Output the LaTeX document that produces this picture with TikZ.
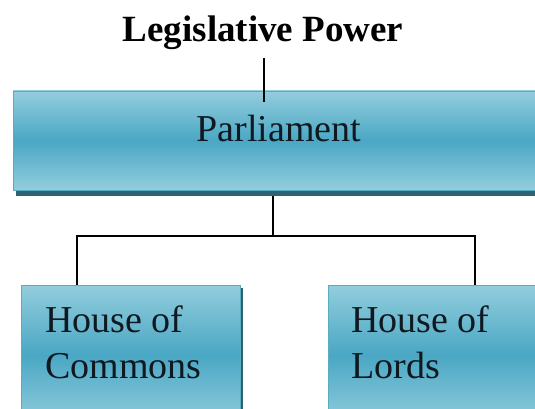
\documentclass[tikz,border=0pt]{standalone}
\usepackage{fontspec}
\setmainfont{Liberation Serif}
\begin{document}
\begin{tikzpicture}[x=1pt,y=-1pt,
  boxfill/.style={draw=boxedge, line width=0.8pt, shading=axis, top color=boxlight, bottom color=boxlight, middle color=boxmid, inner sep=0pt, outer sep=0pt},
  shadowfill/.style={fill=boxshadow, draw=none},
  conn/.style={line width=1.6pt, black},
  boxtext/.style={font=\fontsize{38}{46}\selectfont, text=textdark, inner sep=0pt, align=left}
]
\definecolor{boxlight}{HTML}{93CDDD}
\definecolor{boxmid}{HTML}{4AA7C4}
\definecolor{boxedge}{HTML}{5AACC2}
\definecolor{boxshadow}{HTML}{2C6474}
\definecolor{textdark}{HTML}{101820}
\useasboundingbox (0,0) rectangle (535,409);
\clip (0,0) rectangle (535,409);
% title
\node[font=\bfseries\fontsize{37}{44}\selectfont, inner sep=0pt, anchor=base] (title) at (263,42) {Legislative Power};
\coordinate (ttop) at (264,58);
% shadows
\fill[shadowfill] (16,189) rectangle (545,196);
\fill[shadowfill] (238,288) rectangle (243,420);
% boxes
\node[boxfill, minimum width=532pt, minimum height=99pt, anchor=north west] (parl) at (13,91) {};
\node[boxfill, minimum width=219pt, minimum height=140pt, anchor=north west] (commons) at (21,285) {};
\node[boxfill, minimum width=215pt, minimum height=140pt, anchor=north west] (lords) at (328,285) {};
% texts
\node[boxtext, anchor=base] (parltext) at (279,142) {Parliament};
\node[boxtext, anchor=base west] (commonstext) at (45,332) {House of};
\node[boxtext, anchor=base west] (commonstext2) at (45,378) {Commons};
\node[boxtext, anchor=base west] (lordstext) at (351,332) {House of};
\node[boxtext, anchor=base west] (lordstext2) at (351,378) {Lords};
% connectors
\coordinate (pin) at (264,102);
\draw[conn] (ttop) -- (pin);
\coordinate (pout) at (273,196);
\coordinate (split) at (273,236);
\coordinate (cin) at (77,285);
\coordinate (lin) at (475,285);
\draw[conn] (pout) -- (split);
\draw[conn] (cin) |- (split) -| (lin);
\end{tikzpicture}
\end{document}
